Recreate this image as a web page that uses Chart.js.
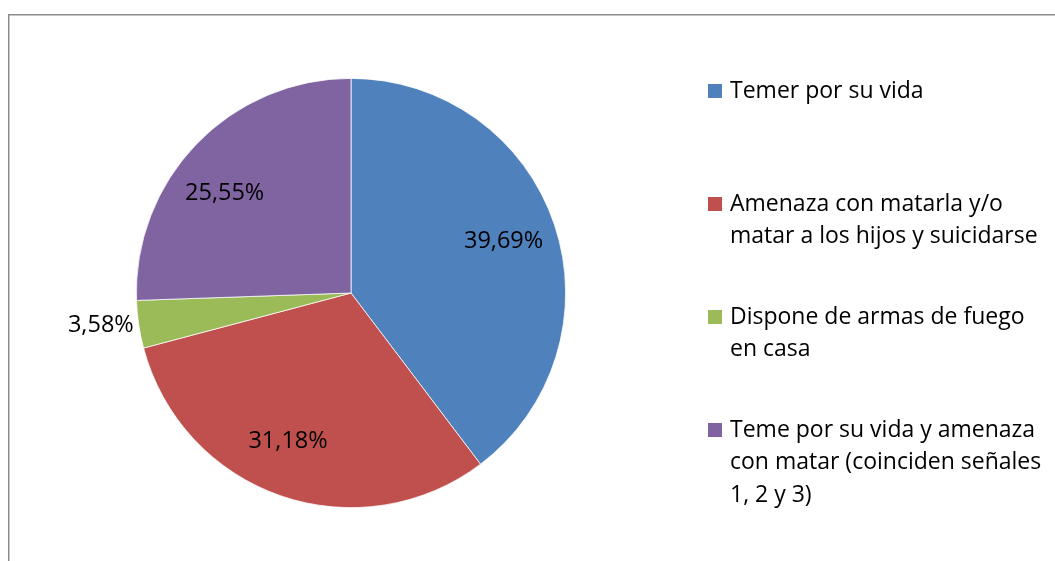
<!DOCTYPE html>
<html>
<head>
<meta charset="utf-8">
<script src="https://cdn.jsdelivr.net/npm/chart.js@4"></script>
<style>
  html, body { margin: 0; padding: 0; background: #fff; }
  #wrap { width: 1055px; height: 561px; position: relative; }
</style>
</head>
<body>
<div id="wrap"><canvas id="c" width="1055" height="561"></canvas></div>
<script>
// Categories and their shares (%)
const categories = [
  ["Temer por su vida"],
  ["Amenaza con matarla y/o", "matar a los hijos y suicidarse"],
  ["Dispone de armas de fuego", "en casa"],
  ["Teme por su vida y amenaza", "con matar (coinciden señales", "1, 2 y 3)"]
];
const shares = [39.69, 31.18, 3.58, 25.55];
const shareLabels = ["39,69%", "31,18%", "3,58%", "25,55%"];
const sliceColors = ["#4F81BD", "#C0504D", "#9BBB59", "#8064A2"];

const FONT = "'Open Sans', Lato, 'Liberation Sans', sans-serif";

// Frame around the chart area (left and top edges visible)
const framePlugin = {
  id: 'frame',
  beforeDraw(chart) {
    const ctx = chart.ctx;
    ctx.save();
    ctx.strokeStyle = '#8c8c8c';
    ctx.lineWidth = 1.5;
    ctx.beginPath();
    ctx.moveTo(8.75, chart.height + 2);
    ctx.lineTo(8.75, 14.75);
    ctx.lineTo(chart.width + 2, 14.75);
    ctx.stroke();
    ctx.restore();
  }
};

// Percentage labels on the slices
const sliceLabelPlugin = {
  id: 'sliceLabels',
  afterDatasetsDraw(chart, args, opts) {
    const ctx = chart.ctx;
    const meta = chart.getDatasetMeta(0);
    ctx.save();
    ctx.font = opts.size + 'px ' + FONT;
    ctx.fillStyle = '#000';
    ctx.textBaseline = 'middle';
    meta.data.forEach((arc, i) => {
      const p = arc.getProps(['x', 'y', 'startAngle', 'endAngle', 'outerRadius'], true);
      const mid = (p.startAngle + p.endAngle) / 2 + (opts.angleShift[i] || 0);
      const outside = opts.outside[i];
      const r = outside ? p.outerRadius + 5 : p.outerRadius * opts.radial[i];
      const x = p.x + Math.cos(mid) * r;
      const y = p.y + Math.sin(mid) * r;
      if (outside) {
        ctx.textAlign = Math.cos(mid) < 0 ? 'right' : 'left';
        ctx.fillText(shareLabels[i], x, y);
      } else {
        ctx.textAlign = 'center';
        ctx.fillText(shareLabels[i], x, y);
      }
    });
    ctx.restore();
  }
};

// Legend on the right with wrapped entries
const sideLegendPlugin = {
  id: 'sideLegend',
  afterDraw(chart, args, opts) {
    const ctx = chart.ctx;
    ctx.save();
    ctx.font = opts.size + 'px ' + FONT;
    ctx.textBaseline = 'middle';
    ctx.textAlign = 'left';
    categories.forEach((lines, i) => {
      const top = opts.firstY + i * opts.step;
      ctx.fillStyle = sliceColors[i];
      ctx.fillRect(opts.x, top - opts.box / 2, opts.box, opts.box);
      ctx.fillStyle = '#000';
      lines.forEach((t, k) => {
        ctx.fillText(t, opts.x + opts.box + 8, top + k * opts.lineH);
      });
    });
    ctx.restore();
  }
};

new Chart(document.getElementById('c'), {
  type: 'pie',
  data: {
    labels: categories.map(l => l.join(' ')),
    datasets: [{
      data: shares,
      backgroundColor: sliceColors,
      borderColor: '#ffffff',
      borderWidth: 0.75
    }]
  },
  options: {
    responsive: false,
    animation: false,
    layout: { padding: { left: 136, right: 489, top: 78, bottom: 53 } },
    plugins: {
      legend: { display: false },
      tooltip: { enabled: false },
      sliceLabels: {
        size: 23.5,
        radial: [0.75, 0.75, 0.75, 0.75],
        angleShift: [0, 0.07, 0, -0.1],
        outside: [false, false, true, false]
      },
      sideLegend: { x: 708, firstY: 91, step: 113, lineH: 32.5, box: 14, size: 23 }
    }
  },
  plugins: [framePlugin, sliceLabelPlugin, sideLegendPlugin]
});
</script>
</body>
</html>
